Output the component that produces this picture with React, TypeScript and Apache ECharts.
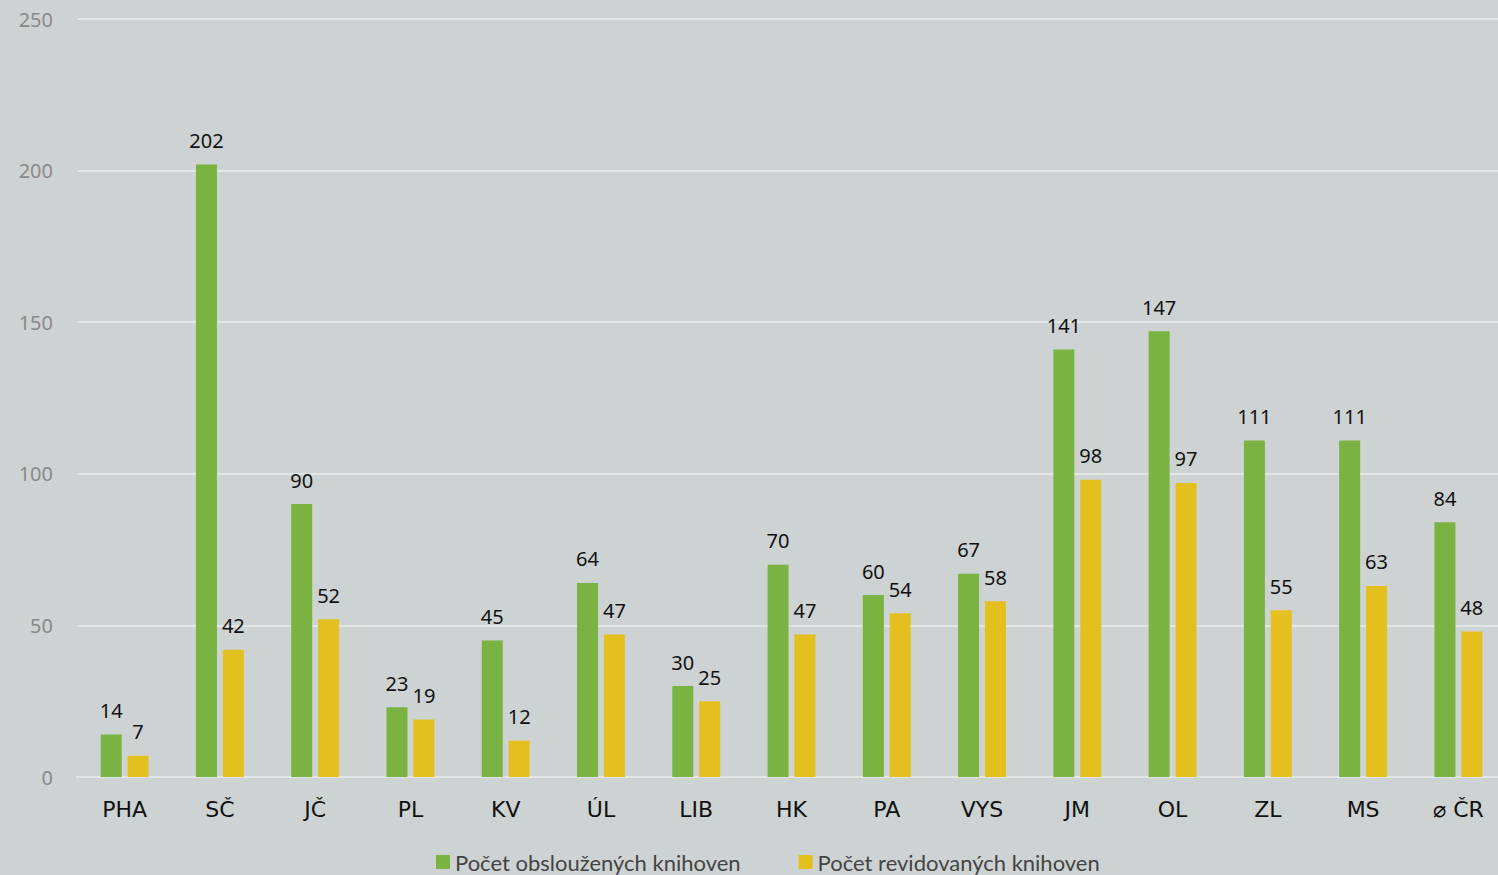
import React, { useEffect, useRef } from "react";
import * as echarts from "echarts";

const categories = ["PHA", "SČ", "JČ", "PL", "KV", "ÚL", "LIB", "HK", "PA", "VYS", "JM", "OL", "ZL", "MS", "⌀ ČR"];
const served = [14, 202, 90, 23, 45, 64, 30, 70, 60, 67, 141, 147, 111, 111, 84];
const revised = [7, 42, 52, 19, 12, 47, 25, 47, 54, 58, 98, 97, 55, 63, 48];
const seriesNames = ["Počet obsloužených knihoven", "Počet revidovaných knihoven"];

export default function App() {
  const ref = useRef<HTMLDivElement>(null);
  useEffect(() => {
    if (!ref.current) return;
    const chart = echarts.init(ref.current, null, { renderer: "svg" });
    const labelStyle = {
      show: true,
      position: "top" as const,
      distance: 14,
      fontSize: 20,
      color: "#111",
      fontFamily: "Noto Sans",
    };
    chart.setOption({
      animation: false,
      backgroundColor: "#cdd3d2",
      grid: { left: 77, width: 1429, top: 19, bottom: 98, containLabel: false, outerBoundsMode: "none" },
      legend: {
        left: 436,
        top: 851,
        padding: 0,
        itemWidth: 14,
        itemHeight: 14,
        itemGap: 58,
        icon: "rect",
        textStyle: { fontSize: 22, lineHeight: 22, color: "#444", fontFamily: "Lato" },
        data: seriesNames,
      },
      xAxis: {
        type: "category",
        data: categories,
        axisLine: { lineStyle: { color: "#e2e6e5", width: 2 } },
        axisTick: { show: false },
        axisLabel: { fontSize: 22, color: "#111", margin: 21, fontFamily: "DejaVu Sans" },
      },
      yAxis: {
        type: "value",
        min: 0,
        max: 250,
        interval: 50,
        axisLine: { show: false },
        axisTick: { show: false },
        splitLine: { lineStyle: { color: "#e2e6e5", width: 2 } },
        axisLabel: { fontSize: 20, color: "#8a8a8a", margin: 24, fontFamily: "Noto Sans" },
      },
      series: [
        {
          name: seriesNames[0],
          type: "bar",
          data: served,
          barWidth: 21,
          barGap: "28%",
          itemStyle: { color: "#7ab342" },
          label: labelStyle,
        },
        {
          name: seriesNames[1],
          type: "bar",
          data: revised,
          barWidth: 21,
          barGap: "28%",
          itemStyle: { color: "#e4c01e" },
          label: labelStyle,
        },
      ],
    });
    return () => chart.dispose();
  }, []);
  return <div ref={ref} style={{ position: "fixed", left: 0, top: 0, width: 1498, height: 875 }} />;
}
